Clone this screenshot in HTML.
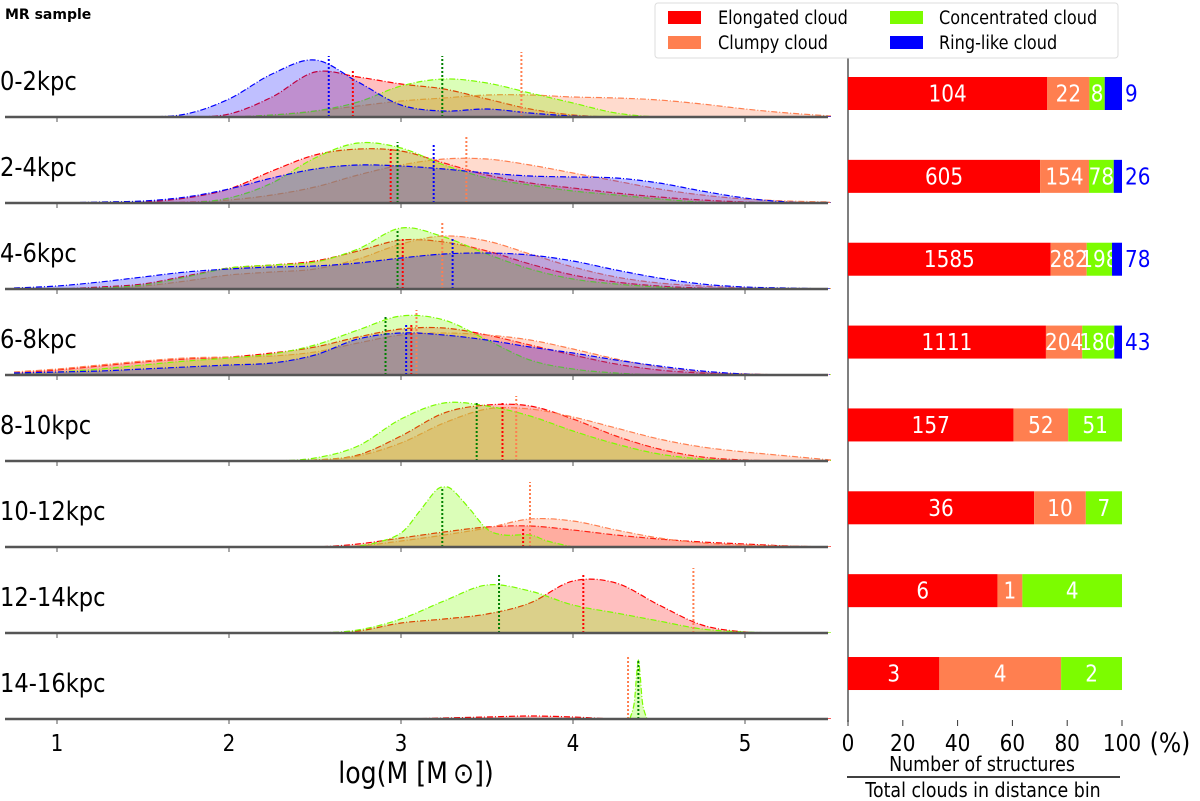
<!DOCTYPE html>
<html><head><meta charset="utf-8"><style>
body{margin:0;background:#fff}
svg{display:block;font-family:"DejaVu Sans","Liberation Sans",sans-serif}
</style></head><body>
<svg id="chart" width="1200" height="801" viewBox="0 0 1200 801" xmlns="http://www.w3.org/2000/svg">
<defs id="defs"></defs>
<text x="5" y="19" font-size="14" font-weight="bold">MR sample</text>
<g id="left"></g>
<g id="right"></g>
<g id="legend">
<rect x="655" y="3" width="463" height="55" fill="#fff" stroke="#ddd" rx="3"/>
<g><rect x="668" y="11" width="33" height="13" fill="#ff0000"/><text class="c" x="718" y="24" font-size="18.5">Elongated cloud</text></g>
<g><rect x="668" y="36" width="33" height="13" fill="#ff7f50"/><text class="c" x="718" y="49" font-size="18.5">Clumpy cloud</text></g>
<g><rect x="890" y="11" width="33" height="13" fill="#7cfc00"/><text class="c" x="939" y="24" font-size="18.5">Concentrated cloud</text></g>
<g><rect x="890" y="36" width="33" height="13" fill="#0000ff"/><text class="c" x="939" y="49" font-size="18.5">Ring-like cloud</text></g>
</g>
</svg>
<script>
const rowLabels=["0-2kpc","2-4kpc","4-6kpc","6-8kpc","8-10kpc","10-12kpc","12-14kpc","14-16kpc"];
const grid=[0.75,1,1.25,1.5,1.75,2,2.25,2.5,2.75,3,3.25,3.5,3.75,4,4.25,4.5,4.75,5,5.25,5.5];
const massTicks=[1,2,3,4,5];
const elongY=[
[0,0,0,0,0,3,20,45,40,33,28,18,8,2,0,0,0,0,0,0],
[0,0,0,1,5,14,32,48,54,52,40,28,20,15,10,6,3,1,0,0],
[0,0,2,5,13,21,24,28,38,49,47,38,25,14,7,3,1,0,0,0],
[2,5,9,13,16,18,22,28,38,46,47,40,30,20,11,5,2,1,0,0],
[0,0,0,0,0,0,0,1,6,25,48,56,55,42,25,12,4,1,0,0],
[0,0,0,0,0,0,0,0,3,9,15,20,21,17,12,8,5,3,1,0],
[0,0,0,0,0,0,0,0,2,10,14,19,30,52,50,28,8,1,0,0],
[0,0,0,0,0,0,0,0,0,0,1,2,3,2,0,0,0,0,0,0]];
const clumpyY=[
[0,0,0,0,0,0,2,6,11,16,19,22,22,20,19,17,13,8,4,1],
[0,0,0,0,1,3,8,16,28,38,44,44,38,30,22,14,8,4,2,1],
[0,0,1,3,8,14,17,20,30,45,53,48,35,22,12,6,3,1,0,0],
[3,6,10,14,17,18,19,23,32,40,42,40,35,26,16,8,3,1,0,0],
[0,0,0,0,0,0,0,1,5,18,38,52,52,44,33,22,14,9,5,1],
[0,0,0,0,0,0,0,0,1,6,12,19,28,26,17,9,4,2,1,0],
null,null];
const concX=[grid,grid,grid,grid,grid,
[2.7,2.85,3.0,3.1,3.2,3.25,3.3,3.4,3.5,3.6,3.75,3.85,4.0],
grid,
[4.33,4.355,4.37,4.38,4.39,4.405,4.43]];
const concY=[
[0,0,0,0,0,0,2,6,15,31,38,34,24,14,4,0,0,0,0,0],
[0,0,0,0,0,5,20,45,60,55,38,25,18,12,8,4,1,0,0,0],
[0,0,1,4,12,21,24,27,40,61,52,35,20,10,5,2,0,0,0,0],
[1,3,6,10,14,17,21,30,45,59,55,35,15,6,2,0,0,0,0,0],
[0,0,0,0,0,0,0,3,15,42,58,55,45,30,17,7,2,0,0,0],
[0,4,14,34,56,60,57,38,18,12,12,6,0],
[0,0,0,0,0,0,0,0,3,14,32,48,42,28,20,12,4,1,0,0],
[0,15,45,59,45,15,0]];
const ringY=[
[0,0,0,0,3,18,43,57,35,12,6,8,4,1,0,0,0,0,0,0],
[0,0,1,2,6,14,25,34,38,37,34,30,27,26,25,20,12,5,1,0],
[1,3,7,12,17,20,22,23,26,31,35,36,34,28,19,11,5,2,1,0],
[2,3,4,6,8,10,12,20,36,42,40,35,28,22,15,9,4,1,0,0],
null,null,null,null];
const medElong=[2.72,2.94,3.01,3.06,3.59,3.71,4.06,null];
const medClumpy=[3.70,3.38,3.24,3.09,3.67,3.75,4.70,4.32];
const medConc=[3.24,2.98,2.98,2.91,3.44,3.24,3.57,4.38];
const medRing=[2.58,3.19,3.30,3.03,null,null,null,null];
const medHElong=[48,56,51,52,59,20,60,0];
const medHClumpy=[65,66,66,65,65,65,65,64];
const medHConc=[61,61,60,60,59,60,60,59];
const medHRing=[61,60,52,52,0,0,0,0];
const cntElong=[104,605,1585,1111,157,36,6,3];
const cntClumpy=[22,154,282,204,52,10,1,4];
const cntConc=[8,78,198,180,51,7,4,2];
const cntRing=[9,26,78,43,0,0,0,0];
const pctTicks=[0,20,40,60,80,100];

const NS="http://www.w3.org/2000/svg";
function mk(tag,attrs,parent){const e=document.createElementNS(NS,tag);for(const k in attrs)e.setAttribute(k,attrs[k]);parent.appendChild(e);return e;}
const xM=v=>-115+172*v;
const base=i=>117+86*i;
const yD=(i,v)=>base(i)-v;
const xP=p=>848+2.74*p;
const barC=i=>93.5+82.86*i;

const left=document.getElementById('left');
const defs=document.getElementById('defs');
const series=[
 {name:'elongated',col:'#ff0000',fill:'rgba(255,0,0,0.25)',med:'#ff0000',ys:elongY,xs:null,m:medElong,h:medHElong},
 {name:'clumpy',col:'#ff7f50',fill:'rgba(255,127,80,0.28)',med:'#ff7f50',ys:clumpyY,xs:null,m:medClumpy,h:medHClumpy},
 {name:'concentrated',col:'#7cfc00',fill:'rgba(124,252,0,0.28)',med:'#008000',ys:concY,xs:concX,m:medConc,h:medHConc},
 {name:'ring',col:'#0000ff',fill:'rgba(0,0,255,0.25)',med:'#0000ff',ys:ringY,xs:null,m:medRing,h:medHRing}];

function pathFor(i,xs,ys){
 const P=xs.map((x,k)=>[xM(x),yD(i,ys[k])]);
 let d='M'+P[0][0]+','+P[0][1];
 for(let k=0;k<P.length-1;k++){
  const p0=P[Math.max(0,k-1)],p1=P[k],p2=P[k+1],p3=P[Math.min(P.length-1,k+2)];
  const c1=[p1[0]+(p2[0]-p0[0])/6,p1[1]+(p2[1]-p0[1])/6];
  const c2=[p2[0]-(p3[0]-p1[0])/6,p2[1]-(p3[1]-p1[1])/6];
  d+=' C'+c1[0]+','+c1[1]+' '+c2[0]+','+c2[1]+' '+p2[0]+','+p2[1];
 }
 return {line:d,P};
}

for(let i=0;i<8;i++){
 const g=mk('g',{},left);
 
 
 const cp=mk('clipPath',{id:'clip'+i},defs);
 mk('rect',{x:0,y:base(i)-90,width:835,height:90},cp);
 const lab=mk('text',{x:0,y:base(i)-27,'font-size':26,class:'c'},g);
 lab.textContent=rowLabels[i];
 
 
 const cg=mk('g',{'clip-path':'url(#clip'+i+')'},g);
 series.forEach(s=>{
  const ys=s.ys[i]; if(!ys) return;
  const xs=s.xs?s.xs[i]:grid;
  const r=pathFor(i,xs,ys);
  const area=mk('path',{d:r.line+' L'+r.P[r.P.length-1][0]+','+base(i)+' L'+r.P[0][0]+','+base(i)+' Z',fill:s.fill,stroke:'none'},cg);
  
  
  const ln=mk('path',{d:r.line,fill:'none',stroke:s.col,'stroke-width':1.2,'stroke-dasharray':'6,2,1,2'},cg);
  
  
 });
 series.forEach(s=>{
  const m=s.m[i]; if(m==null) return;
  const ml=mk('line',{x1:xM(m),x2:xM(m),y1:base(i),y2:base(i)-s.h[i],stroke:s.med,'stroke-width':2,'stroke-dasharray':'2,2'},g);
  
  
 });
 const bl=mk('line',{x1:5,x2:828,y1:base(i),y2:base(i),stroke:'#555','stroke-width':2.5},g);
 
 
 massTicks.forEach(t=>{
  const tk=mk('line',{x1:xM(t),x2:xM(t),y1:base(i),y2:base(i)+5,stroke:'#555','stroke-width':1},g);
  
  
 });
}
massTicks.forEach(t=>{
 const tl=mk('text',{x:xM(t),y:751,'font-size':23,'text-anchor':'middle',class:'c'},left);
 tl.textContent=t;
 
 
});
const xt=mk('text',{x:416,y:783,'font-size':29,'text-anchor':'middle',class:'c'},left);
xt.textContent='log(M [M\u2009\u2299])';



const right=document.getElementById('right');
const sp=mk('line',{x1:848,x2:848,y1:47,y2:722,stroke:'#555','stroke-width':1.5},right);


const bcols=['#ff0000','#ff7f50','#7cfc00','#0000ff'];
const bnames=['elongated','clumpy','concentrated','ring'];
for(let i=0;i<8;i++){
 const vals=[cntElong[i],cntClumpy[i],cntConc[i],cntRing[i]];
 const tot=vals.reduce((a,b)=>a+b,0);
 let acc=0;
 vals.forEach((v,k)=>{
  if(!v) return;
  const p0=acc/tot*100, p1=(acc+v)/tot*100; acc+=v;
  const r=mk('rect',{x:xP(p0),y:barC(i)-16.5,width:xP(p1)-xP(p0),height:33,fill:bcols[k]},right);
  
  
  let t;
  if(k===3){t=mk('text',{x:xP(100)+3,y:barC(i)+8,'font-size':23,fill:'#0000ff',class:'c'},right);}
  else{t=mk('text',{x:(xP(p0)+xP(p1))/2,y:barC(i)+8,'font-size':23,fill:'#fff','text-anchor':'middle',class:'c'},right);}
  t.textContent=v;
  
  
 });
}
pctTicks.forEach(t=>{
 const tk=mk('line',{x1:xP(t),x2:xP(t),y1:720,y2:726,stroke:'#333','stroke-width':1},right);
 
 
 const tl=mk('text',{x:xP(t),y:751,'font-size':23,'text-anchor':'middle',class:'c'},right);
 tl.textContent=t;
 
 
});
const pu=mk('text',{x:1170,y:752,'font-size':27,'text-anchor':'middle',class:'c'},right);
pu.textContent='(%)';


const n1=mk('text',{x:982,y:771,'font-size':20,'text-anchor':'middle',class:'c'},right);
n1.textContent='Number of structures';


const fl=mk('line',{x1:847,x2:1120,y1:777,y2:777,stroke:'#000','stroke-width':1.5},right);


const n2=mk('text',{x:983,y:797,'font-size':20,'text-anchor':'middle',class:'c'},right);
n2.textContent='Total clouds in distance bin';



document.querySelectorAll('text.c').forEach(t=>{
 const L=t.getComputedTextLength();
 t.setAttribute('textLength',(L*0.87).toFixed(1));
 t.setAttribute('lengthAdjust','spacingAndGlyphs');
});
</script>
</body></html>
